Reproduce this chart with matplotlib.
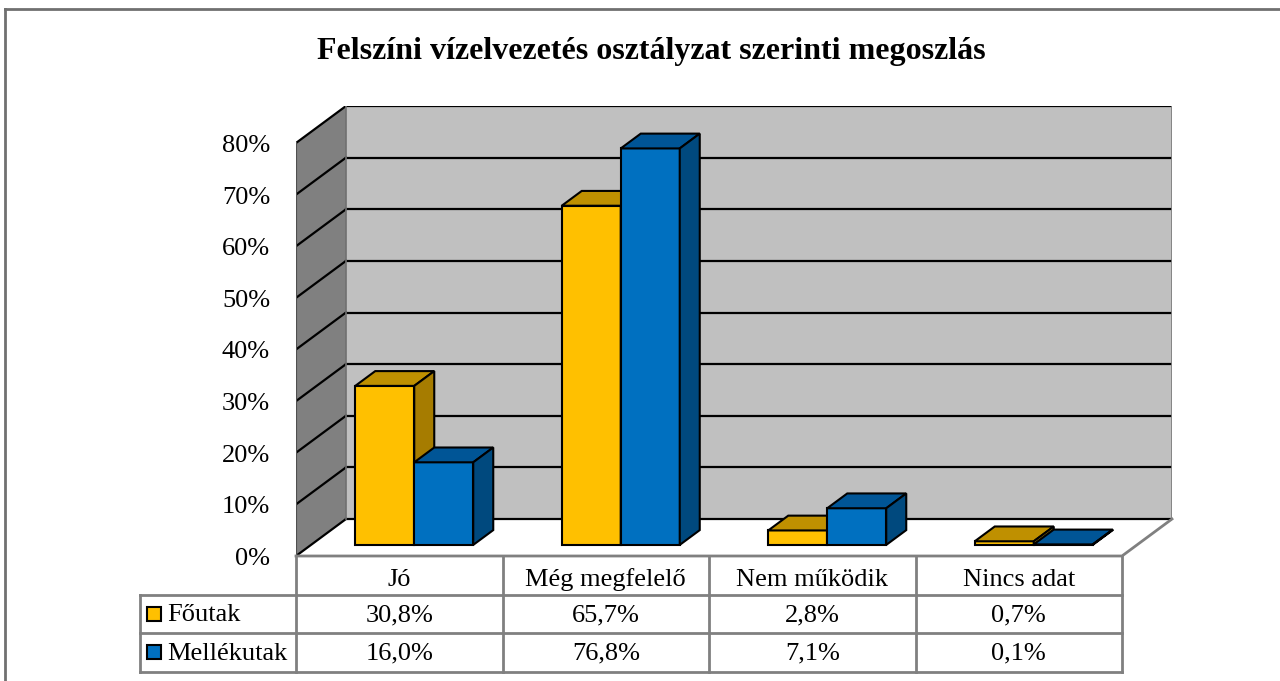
import matplotlib as mpl
mpl.use("Agg")
import matplotlib.pyplot as plt
from matplotlib.patches import Polygon, Rectangle
from matplotlib.lines import Line2D

# data
categories = ["Jó", "Még megfelelő", "Nem működik", "Nincs adat"]
series = ["Főutak", "Mellékutak"]
foutak = [30.8, 65.7, 2.8, 0.7]
mellekutak = [16.0, 76.8, 7.1, 0.1]
y_ticks = [0, 10, 20, 30, 40, 50, 60, 70, 80]
title = "Felszíni vízelvezetés osztályzat szerinti megoszlás"

front_colors = ["#FFC000", "#0070C0"]
top_colors = ["#BF9000", "#005596"]
side_colors = ["#A67C00", "#00497E"]
grey = "#808080"

plt.rcParams["font.family"] = ["Liberation Serif", "DejaVu Serif"]

W, H = 1280, 681
fig = plt.figure(figsize=(W / 100, H / 100), dpi=100)

# front plane of the plot: 4 categories, 0..80 %
ymax = y_ticks[-1]
px_x = (1122 - 296) / len(categories)   # pixels per category
px_y = (556 - 143) / ymax               # pixels per percent
DX = 50 / px_x                          # depth offset (x)
DY = 37 / px_y                          # depth offset (y)
ax = fig.add_axes([296 / W, (H - 556) / H,
                   (1122 + 50 - 296) / W, (556 - 143 + 37) / H])
n = len(categories)
ax.set_xlim(0, n + DX)
ax.set_ylim(0, ymax + DY)
ax.axis("off")

# walls and floor
ax.add_patch(Rectangle((DX, DY), n, ymax, fc="#C0C0C0", ec="none", zorder=1))
ax.add_patch(Polygon([(0, 0), (DX, DY), (DX, ymax + DY), (0, ymax)],
                     fc=grey, ec="none", zorder=1))
ax.add_patch(Polygon([(0, 0), (n, 0), (n + DX, DY), (DX, DY)],
                     fc="white", ec="none", zorder=1))
for t in y_ticks:
    ax.plot([DX, n + DX], [t + DY, t + DY], color="black", lw=1.6, zorder=2)
    ax.plot([0, DX], [t, t + DY], color="black", lw=1.6, zorder=2)
ax.plot([0, 0], [0, ymax], color="#505050", lw=1.5, zorder=2)
ax.plot([DX, DX], [DY, ymax + DY], color="#707070", lw=1.2, zorder=2)
ax.plot([n + DX, n + DX], [DY, ymax + DY], color=grey, lw=2, zorder=2)
ax.plot([0, n, n + DX], [0, 0, DY], color=grey, lw=2, clip_on=False, zorder=2)

# bars
w = 1 / 3.5
f0, f1 = 0.3, 0.7
d = f1 - f0
z = 3
for i in range(n):
    for s, vals in enumerate([foutak, mellekutak]):
        v = vals[i]
        x0 = i + 0.75 * w + s * w + f0 * DX
        y0 = f0 * DY
        ax.bar(x0, v, width=w, bottom=y0, align="edge", color=front_colors[s],
               edgecolor="black", lw=1.5, zorder=z)
        ax.add_patch(Polygon([(x0, y0 + v), (x0 + d * DX, y0 + v + d * DY),
                              (x0 + w + d * DX, y0 + v + d * DY), (x0 + w, y0 + v)],
                             fc=top_colors[s], ec="black", lw=1.5, zorder=z + 1))
        ax.add_patch(Polygon([(x0 + w, y0), (x0 + w + d * DX, y0 + d * DY),
                              (x0 + w + d * DX, y0 + v + d * DY), (x0 + w, y0 + v)],
                             fc=side_colors[s], ec="black", lw=1.5, zorder=z + 2))
        z += 3

fs = 19
shift = 3 / px_y  # small downward nudge for text centring

# y tick labels
for t in y_ticks:
    ax.text(-26 / px_x, t - shift, "%d%%" % t, ha="right", va="center",
            fontsize=fs, clip_on=False)

# data table
row_h = 38.5 / px_y
left = -156 / px_x
y_head = -row_h
y_r1 = -2 * row_h
y_r2 = -3 * row_h
tbl = dict(color=grey, lw=2, clip_on=False, zorder=2)
for k in range(n + 1):
    ax.plot([k, k], [0, y_r2], **tbl)
ax.plot([left, left], [y_head, y_r2], **tbl)
for yy in [y_head, y_r1, y_r2]:
    ax.plot([left, n], [yy, yy], **tbl)
for i, cat in enumerate(categories):
    ax.text(i + 0.5, y_head / 2 - 1.5 * shift, cat, ha="center", va="center",
            fontsize=fs)
for r, (name, vals) in enumerate(zip(series, [foutak, mellekutak])):
    yc = -(r + 1.5) * row_h
    ax.add_patch(Rectangle((-149 / px_x, yc - 7 / px_y), 14 / px_x, 14 / px_y,
                           fc=front_colors[r], ec="black", lw=1.5, clip_on=False))
    ax.text(-129 / px_x, yc - shift / 2, name, ha="left", va="center", fontsize=fs)
    for i, v in enumerate(vals):
        ax.text(i + 0.5, yc - shift / 2, ("%.1f%%" % v).replace(".", ","),
                ha="center", va="center", fontsize=fs)

# title and chart border
fig.text(651 / W, 1 - 51 / H, title, ha="center", va="center",
         fontsize=23, fontweight="bold")
fig.add_artist(Line2D([5 / W, 5 / W], [0, 1 - 9 / H], color="#707070", lw=2))
fig.add_artist(Line2D([5 / W, 1], [1 - 9 / H, 1 - 9 / H], color="#707070", lw=2))

fig.savefig("out.png", dpi=100)
